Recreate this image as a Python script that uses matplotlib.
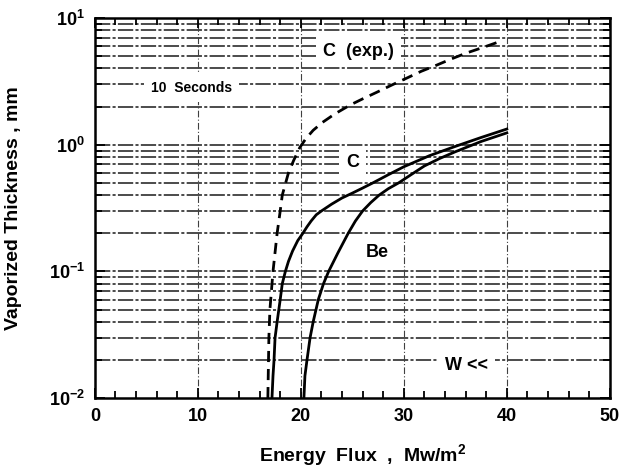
import matplotlib
matplotlib.use("Agg")
import matplotlib.pyplot as plt
from matplotlib.ticker import LogLocator, MultipleLocator, FixedLocator, NullFormatter

plt.rcParams["font.family"] = ["Liberation Sans", "DejaVu Sans"]
plt.rcParams["font.weight"] = "bold"
plt.rcParams["mathtext.fontset"] = "custom"
plt.rcParams["mathtext.rm"] = "Liberation Sans:bold"
plt.rcParams["mathtext.bf"] = "Liberation Sans:bold"
plt.rcParams["mathtext.it"] = "Liberation Sans:bold"

# values (energy flux MW/m2 vs vaporized thickness mm)
c_exp_x = [16.8, 16.9, 17.0, 17.3, 17.7, 18.0, 18.2, 18.8, 19.3, 19.9, 20.5, 21.2, 22.1,
           23.3, 24.8, 26.0, 27.4, 28.8, 30.3, 31.7, 33.2, 34.6, 36.1, 37.8, 39.5]
c_exp_y = [0.01, 0.03, 0.05, 0.1, 0.2, 0.3, 0.4, 0.6, 0.75, 0.95, 1.12, 1.3, 1.5,
           1.75, 2.06, 2.3, 2.6, 2.95, 3.36, 3.8, 4.25, 4.75, 5.3, 5.9, 6.6]

c_x = [17.2, 17.3, 17.4, 17.5, 17.7, 18.0, 18.2, 18.5, 18.8, 19.2, 19.7, 20.2, 20.6,
       21.0, 21.5, 22.0, 23.0, 24.0, 25.0, 26.0, 27.0, 28.5, 30.0, 32.5, 35.0, 37.5, 40.0]
c_y = [0.01, 0.015, 0.02, 0.03, 0.04, 0.06, 0.08, 0.1, 0.12, 0.145, 0.175, 0.2, 0.225,
       0.25, 0.28, 0.3, 0.34, 0.38, 0.415, 0.455, 0.5, 0.58, 0.67, 0.82, 0.97, 1.14, 1.33]

be_x = [20.3, 20.4, 20.6, 20.9, 21.2, 21.7, 22.2, 22.7, 23.6, 24.6, 25.3, 26.0, 26.8,
        27.6, 28.5, 29.5, 30.7, 32.0, 33.5, 35.0, 37.5, 40.0]
be_y = [0.01, 0.015, 0.02, 0.03, 0.04, 0.06, 0.08, 0.1, 0.14, 0.2, 0.25, 0.3, 0.35,
        0.4, 0.45, 0.5, 0.58, 0.68, 0.78, 0.88, 1.06, 1.24]

x_ticks = [0, 10, 20, 30, 40, 50]
y_ticks = [0.01, 0.1, 1, 10]
y_tick_labels = [r"$10^{-2}$", r"$10^{-1}$", r"$10^{0}$", r"$10^{1}$"]

fig = plt.figure(figsize=(6.28, 4.74), dpi=100)
ax = fig.add_axes([0.151, 0.160, 0.820, 0.802])
ax.set_yscale("log")
ax.set_xlim(0, 50)
ax.set_ylim(0.01, 10)

# dense horizontal grid at every decade subdivision
grid_y = [m * 10.0 ** e for e in (-2, -1, 0) for m in range(1, 10)][1:]
for gy in grid_y:
    ax.axhline(gy, color="0.1", lw=1.1, ls=(0, (10, 1.5, 2, 1.5)), zorder=1)
for gx in x_ticks[1:-1]:
    ax.axvline(gx, color="0.25", lw=0.8, ls=(0, (6, 2, 1, 2)), zorder=1)

ax.plot(c_exp_x, c_exp_y, color="black", lw=2.0, ls=(0, (4, 2.5)), zorder=3)
ax.plot(c_x, c_y, color="black", lw=2.0, zorder=3)
ax.plot(be_x, be_y, color="black", lw=2.0, zorder=3)

box = dict(facecolor="white", edgecolor="none", pad=5)
ax.text(9.4, 2.8, "10  Seconds", fontsize=10, ha="center", va="center", bbox=box, zorder=4)
ax.text(25.6, 5.4, "C  (exp.)", fontsize=13, ha="center", va="center", bbox=box, zorder=4)
ax.text(25.0, 0.72, "C", fontsize=13, ha="center", va="center", bbox=box, zorder=4)
ax.text(27.4, 0.142, "Be", fontsize=13, ha="center", va="center", bbox=box, zorder=4)
ax.text(36.1, 0.018, "W <<", fontsize=13, ha="center", va="center", bbox=box, zorder=4)

ax.xaxis.set_major_locator(FixedLocator(x_ticks))
ax.xaxis.set_minor_locator(MultipleLocator(2))
ax.yaxis.set_major_locator(FixedLocator(y_ticks))
ax.yaxis.set_minor_locator(LogLocator(base=10, subs=range(2, 10)))
ax.yaxis.set_minor_formatter(NullFormatter())
ax.set_xticklabels([str(t) for t in x_ticks])
ax.set_yticklabels(y_tick_labels)
ax.tick_params(which="both", direction="in", top=True, right=True, width=1.3)
ax.tick_params(which="major", length=7, labelsize=13, pad=7)
ax.tick_params(which="minor", length=5)

for sp in ax.spines.values():
    sp.set_linewidth(1.8)

ax.set_xlabel(r"Energy  Flux  ,  Mw/m$^2$", fontsize=14, fontweight="bold")
ax.set_ylabel("Vaporized Thickness , mm", fontsize=14, fontweight="bold")
ax.xaxis.set_label_coords(0.52, -0.115)
ax.yaxis.set_label_coords(-0.142, 0.5)

fig.savefig("out.png", dpi=100)
